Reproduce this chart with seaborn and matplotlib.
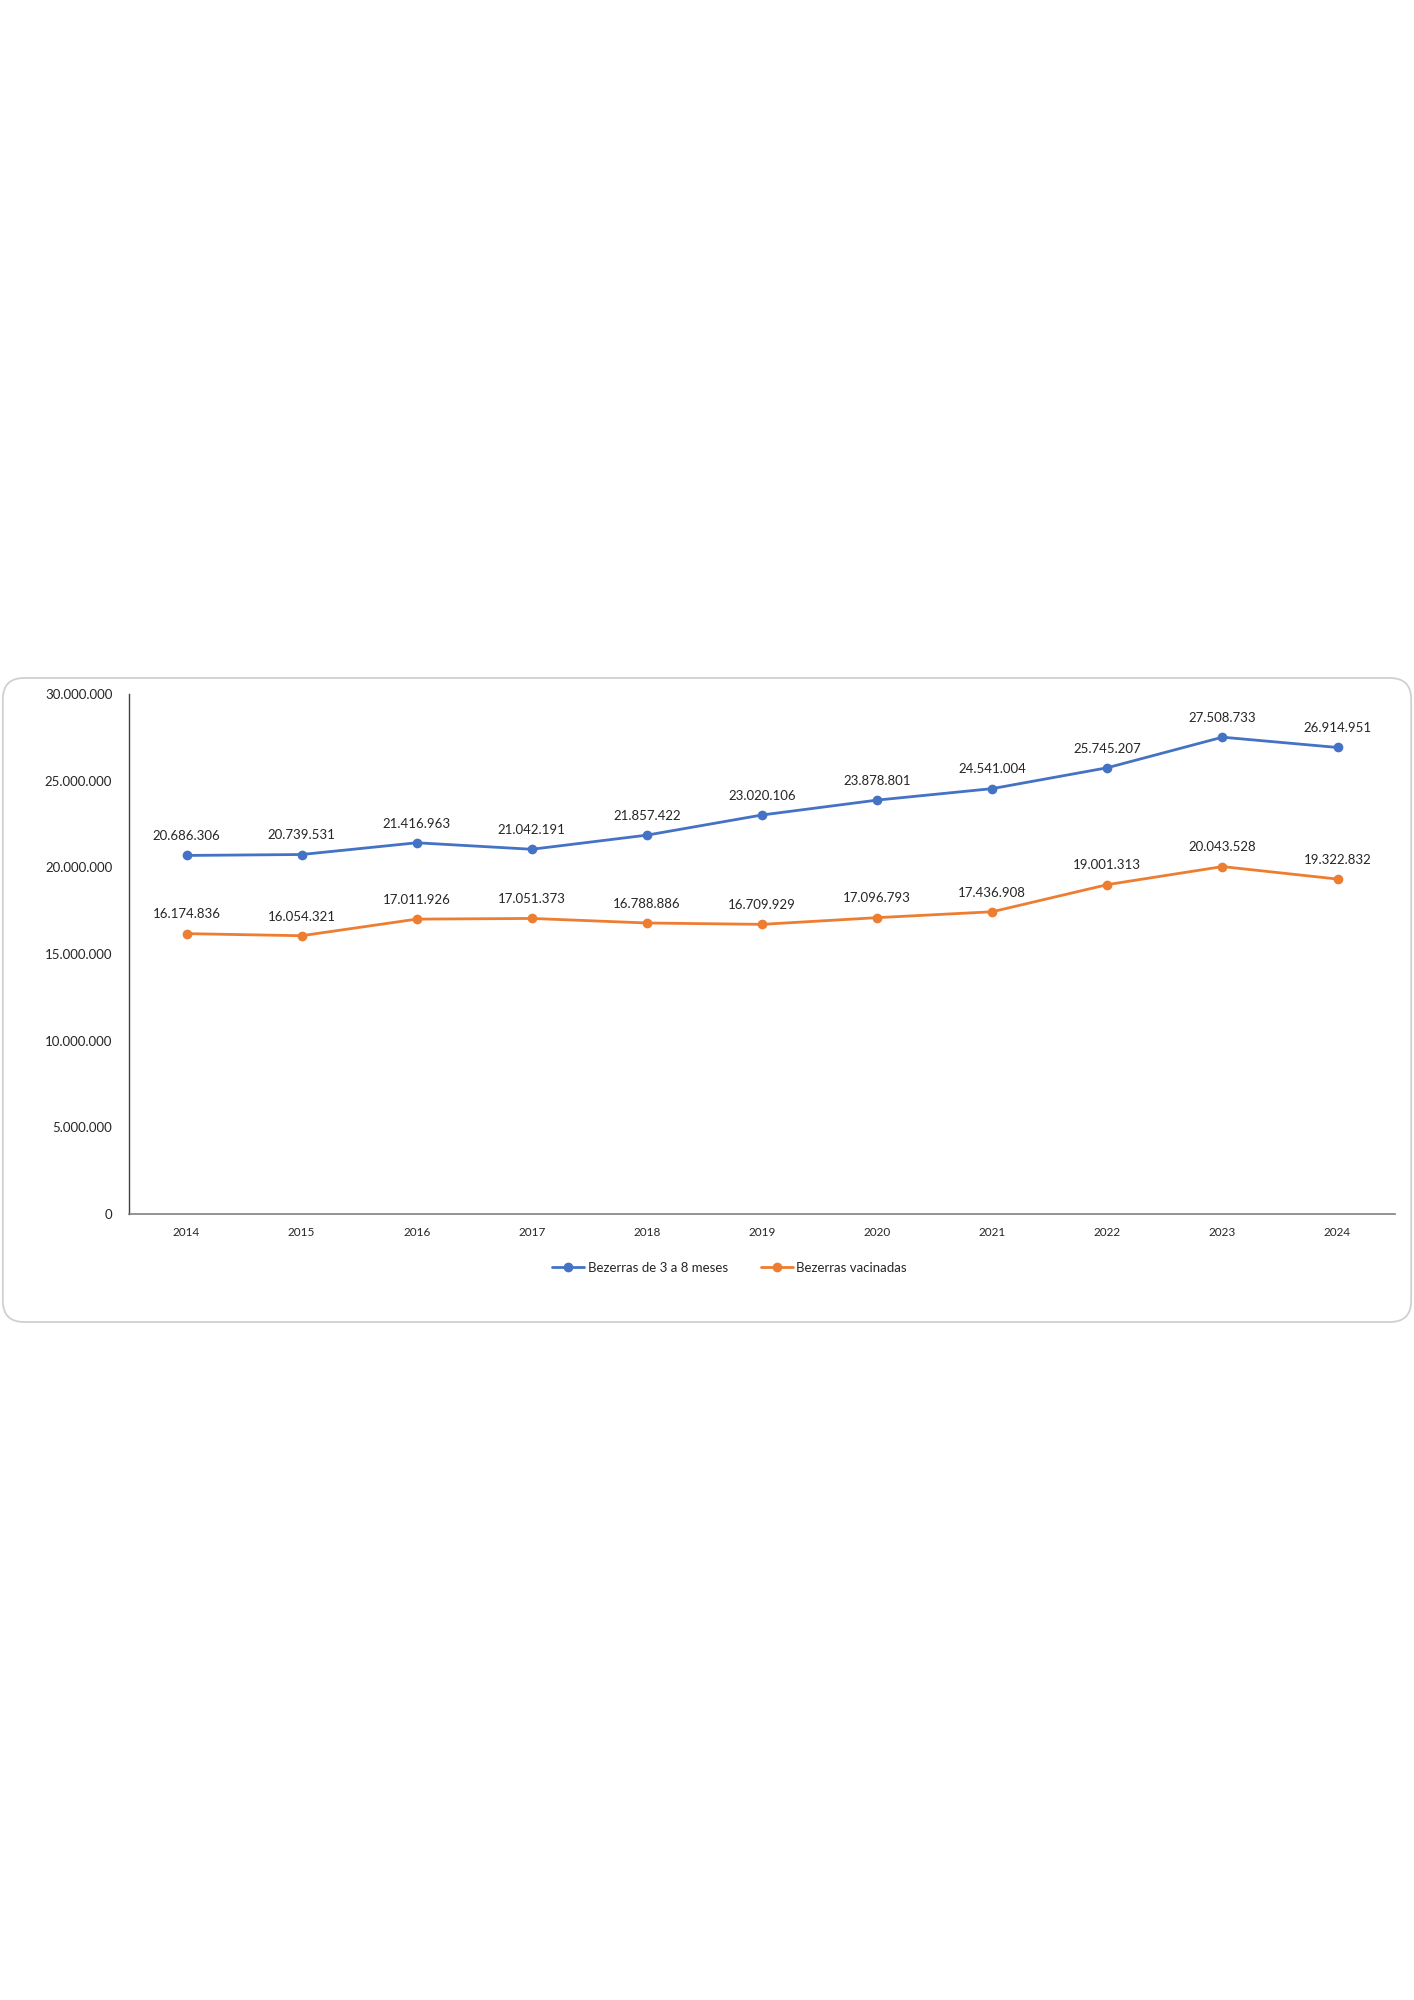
import pandas as pd
import numpy as np
import seaborn as sns
import matplotlib.pyplot as plt
from matplotlib.patches import FancyBboxPatch

# dados
anos = [2014, 2015, 2016, 2017, 2018, 2019, 2020, 2021, 2022, 2023, 2024]
bezerras_3a8 = [20686306, 20739531, 21416963, 21042191, 21857422, 23020106,
                23878801, 24541004, 25745207, 27508733, 26914951]
bezerras_vac = [16174836, 16054321, 17011926, 17051373, 16788886, 16709929,
                17096793, 17436908, 19001313, 20043528, 19322832]
serie_nomes = ['Bezerras de 3 a 8 meses', 'Bezerras vacinadas']
yticks = [0, 5000000, 10000000, 15000000, 20000000, 25000000, 30000000]

df = pd.DataFrame({
    'ano': anos * 2,
    'valor': bezerras_3a8 + bezerras_vac,
    'serie': [serie_nomes[0]] * len(anos) + [serie_nomes[1]] * len(anos),
})

def fmt(v):
    return f"{int(v):,}".replace(",", ".")

sns.set_theme(style='white')
plt.rcParams['font.family'] = ['Lato', 'DejaVu Sans']

cores = {serie_nomes[0]: '#4472C4', serie_nomes[1]: '#ED7D31'}

fig = plt.figure(figsize=(14.14, 20), dpi=100)

# moldura arredondada (atras do grafico)
box = FancyBboxPatch((0.002, 0.339), 0.996, 0.322,
                     boxstyle='round,pad=0,rounding_size=0.015',
                     transform=fig.transFigure, facecolor='white',
                     edgecolor='#D0D0D0', linewidth=1.3, mutation_aspect=0.707,
                     zorder=-10)
fig.patches.append(box)

ax = fig.add_axes([0.0912, 0.393, 0.8954, 0.26])
ax.set_zorder(5)
sns.lineplot(data=df, x='ano', y='valor', hue='serie', palette=cores,
             marker='o', markersize=7, markeredgewidth=0, linewidth=2.0,
             ax=ax, legend=True)

for nome, vals in zip(serie_nomes, [bezerras_3a8, bezerras_vac]):
    for a, v in zip(anos, vals):
        ax.annotate(fmt(v), (a, v), xytext=(0, 9.5), textcoords='offset points',
                    ha='center', va='bottom', fontsize=9.5, color='#262626')

ax.set_xlim(2013.5, 2024.5)
ax.set_ylim(0, 30000000)
ax.set_xticks(anos)
ax.set_xticklabels([str(a) for a in anos], fontsize=8.5, color='#262626')
ax.set_yticks(yticks)
ax.set_yticklabels([fmt(t) for t in yticks], fontsize=9.5, color='#262626')
ax.tick_params(axis='both', length=0)
ax.tick_params(axis='y', pad=12)
ax.tick_params(axis='x', pad=9)
ax.set_xlabel('')
ax.set_ylabel('')
ax.patch.set_alpha(0)
for s in ['top', 'right']:
    ax.spines[s].set_visible(False)
ax.spines['left'].set_color('#404040')
ax.spines['left'].set_linewidth(1.0)
ax.spines['bottom'].set_color('#808080')
ax.spines['bottom'].set_linewidth(1.2)

leg = ax.legend(loc='center', bbox_to_anchor=(0.516, 0.366),
                bbox_transform=fig.transFigure, ncol=2, frameon=False,
                fontsize=9.5, handlelength=2.4, columnspacing=2.5,
                handletextpad=0.3)
for t in leg.get_texts():
    t.set_color('#262626')

fig.savefig('out.png', dpi=100, facecolor='white')
